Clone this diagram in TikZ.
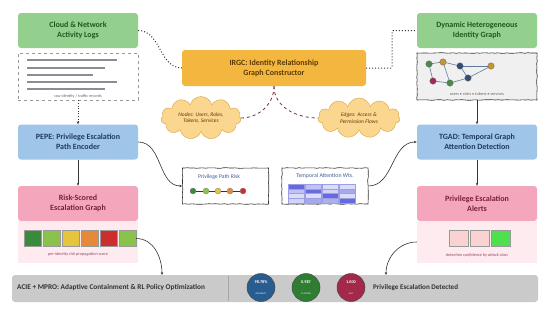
\documentclass[tikz,border=0pt]{standalone}
\usepackage{fontspec}
\setmainfont{Carlito}
\usetikzlibrary{shapes.symbols,decorations.pathmorphing,arrows.meta,calc}
\definecolor{gfill}{HTML}{93CF8D}
\definecolor{gtext}{HTML}{1F5A1F}
\definecolor{ofill}{HTML}{F3B63F}
\definecolor{otext}{HTML}{5A3A05}
\definecolor{bfill}{HTML}{9FC5E8}
\definecolor{btext}{HTML}{1F3A5F}
\definecolor{pfill}{HTML}{F4A6BC}
\definecolor{ptext}{HTML}{7A1F3A}
\definecolor{plight}{HTML}{FDEBEF}
\definecolor{cfill}{HTML}{FBD68E}
\definecolor{cdraw}{HTML}{D9A444}
\definecolor{ctext}{HTML}{5A3A10}
\definecolor{barfill}{HTML}{CACACA}
\definecolor{ink}{HTML}{333333}
\definecolor{dashred}{HTML}{7A2D3A}
\definecolor{attn}{HTML}{4B50D6}
\definecolor{mtitle}{HTML}{3F5F8F}
\definecolor{cblue}{HTML}{2A5D8F}
\definecolor{cgreen}{HTML}{2E7D32}
\definecolor{cred}{HTML}{A3284A}
\definecolor{rdkgreen}{HTML}{3A8A3C}
\definecolor{rltgreen}{HTML}{8BC34A}
\definecolor{ryellow}{HTML}{E4C53C}
\definecolor{rorange}{HTML}{E68A3A}
\definecolor{rred}{HTML}{CC2E2E}
\definecolor{nodegreen}{HTML}{4A8A4A}
\definecolor{nodegold}{HTML}{C8952E}
\definecolor{nodenavy}{HTML}{2E4F7A}
\definecolor{nodemag}{HTML}{A3285A}
\definecolor{edgecol}{HTML}{5F7A99}
\definecolor{rawbar}{HTML}{8C8C92}
\definecolor{alertpink}{HTML}{FBD2D2}
\definecolor{alertgreen}{HTML}{4EE04E}
\tikzset{
  box/.style={rounded corners=3pt, minimum width=120pt, minimum height=35pt, align=center,
    font=\fontsize{8}{10}\selectfont\bfseries, inner sep=0pt},
  sketch/.style={draw=ink, line width=0.6pt, decorate,
    decoration={random steps, segment length=3pt, amplitude=0.35pt}},
  capt/.style={font=\fontsize{4.2}{5}\selectfont, text=gray!80!black, inner sep=0pt},
  cld/.style={cloud, cloud puffs=11, aspect=2.1, draw=cdraw, fill=cfill, inner sep=0pt,
    font=\fontsize{5.5}{6.6}\selectfont\itshape, text=ctext, align=center},
  gdot/.style={circle, minimum size=6.5pt, inner sep=0pt, draw=black!60, line width=0.3pt},
  rdot/.style={circle, minimum size=6pt, inner sep=0pt, draw=black!50, line width=0.3pt},
  sq/.style={minimum width=17pt, minimum height=16pt, inner sep=0pt, draw=gray!80, line width=0.4pt},
  arr/.style={draw=ink, line width=0.6pt, -{Stealth[length=3pt,width=2.4pt]}},
  dotline/.style={draw=ink, line width=1pt, dotted},
  metric/.style={circle, minimum size=28pt, inner sep=0pt, draw=black!70, line width=0.5pt,
    align=center, text=white}
}
\begin{document}
\begin{tikzpicture}[x=1pt,y=-1pt]
\useasboundingbox (0,0) rectangle (550,309);
\fill[white] (0,0) rectangle (550,309);

% left column
\node[box, fill=gfill, text=gtext] (logs) at (78,30.5) {Cloud \& Network\\Activity Logs};
\node[draw=gray!80, dashed, line width=0.6pt, minimum width=120pt, minimum height=47pt, inner sep=0pt] (raw) at (78,76.5) {};
\foreach \y/\e in {60/117,68/105,75/93,82/117,89/105}
  \fill[rawbar] (27,\y-1.3) rectangle (\e,\y+1.3);
\node[capt] (rawc) at (78,96) {raw identity / traffic records};

\node[box, fill=bfill, text=btext] (pepe) at (78,142) {PEPE: Privilege Escalation\\Path Encoder};
\node[box, fill=pfill, text=ptext] (risk) at (78,203.5) {Risk-Scored\\Escalation Graph};
\node[fill=plight, minimum width=120pt, minimum height=42pt, inner sep=0pt] (rpanel) at (78,242) {};
\node[sq, fill=rdkgreen] (s1) at (32.5,238.5) {};
\node[sq, fill=rltgreen] (s2) at (51.5,238.5) {};
\node[sq, fill=ryellow] (s3) at (70.5,238.5) {};
\node[sq, fill=rorange] (s4) at (89.5,238.5) {};
\node[sq, fill=rred] (s5) at (108.5,238.5) {};
\node[sq, fill=rltgreen] (s6) at (127.5,238.5) {};
\node[capt, font=\fontsize{4.3}{5}\selectfont\itshape, text=ptext!80] (rcap) at (78,254) {per-identity risk propagation score};

% center top
\node[box, fill=ofill, text=otext, minimum width=184pt, minimum height=36pt] (irgc) at (274,68) {IRGC: Identity Relationship\\Graph Constructor};
\node[cld, minimum width=80pt, minimum height=40pt] (cl) at (201,118) {Nodes: Users, Roles,\\Tokens, Services};
\node[cld, minimum width=82pt, minimum height=40pt] (cr) at (359,118) {Edges: Access \&\\Permission Flows};

% right column
\node[box, fill=gfill, text=gtext] (dyn) at (477,30.5) {Dynamic Heterogeneous\\Identity Graph};
\node[sketch, fill=gray!12, minimum width=120pt, minimum height=47pt, inner sep=0pt] (gpanel) at (477,76.5) {};
\coordinate (p1) at (429,64);
\coordinate (p2) at (443,62);
\coordinate (p3) at (460,66);
\coordinate (p4) at (491,66);
\coordinate (p5) at (433,81);
\coordinate (p6) at (450,83);
\coordinate (p7) at (468,78);
\foreach \a/\b in {p1/p2,p1/p5,p5/p6,p2/p6,p2/p3,p3/p4,p3/p7,p7/p4,p7/p6}
  \draw[draw=edgecol, line width=0.6pt] (\a) -- (\b);
\node[gdot, fill=nodegreen] (g1) at (p1) {};
\node[gdot, fill=nodegold] (g2) at (p2) {};
\node[gdot, fill=nodenavy] (g3) at (p3) {};
\node[gdot, fill=nodegold] (g4) at (p4) {};
\node[gdot, fill=nodemag] (g5) at (p5) {};
\node[gdot, fill=nodegreen] (g6) at (p6) {};
\node[gdot, fill=nodenavy] (g7) at (p7) {};
\node[capt] (gcap) at (477,94) {users • roles • tokens • services};

\node[box, fill=bfill, text=btext] (tgad) at (477,142) {TGAD: Temporal Graph\\Attention Detection};
\node[box, fill=pfill, text=ptext] (alerts) at (477,203.5) {Privilege Escalation\\Alerts};
\node[fill=plight, minimum width=120pt, minimum height=42pt, inner sep=0pt] (apanel) at (477,242) {};
\node[sq, minimum width=19pt, fill=alertpink] (a1) at (459,238.5) {};
\node[sq, minimum width=19pt, fill=alertpink] (a2) at (480,238.5) {};
\node[sq, minimum width=19pt, fill=alertgreen] (a3) at (501,238.5) {};
\node[capt, font=\fontsize{4.3}{5}\selectfont\itshape, text=ptext!80] (acap) at (477,255) {detection confidence by attack class};

% middle boxes
\node[sketch, fill=white, minimum width=86pt, minimum height=36pt, inner sep=0pt] (prisk) at (225.5,186) {};
\node[font=\fontsize{5.7}{7}\selectfont, text=mtitle] (prt) at (219,177) {Privilege Path Risk};
\node[rdot, fill=rdkgreen] (d1) at (193,191) {};
\node[rdot, fill=rltgreen] (d2) at (206,191) {};
\node[rdot, fill=ryellow] (d3) at (218,191) {};
\node[rdot, fill=rorange] (d4) at (230,191) {};
\node[rdot, fill=rred] (d5) at (243,191) {};
\draw[ink, line width=0.6pt] (d1) -- (d2) (d2) -- (d3) (d3) -- (d4) (d4) -- (d5);

\node[sketch, fill=white, minimum width=86pt, minimum height=36pt, inner sep=0pt] (tatt) at (325,186) {};
\node[font=\fontsize{5.8}{7}\selectfont, text=mtitle] (tat) at (325,176) {Temporal Attention Wts.};
\foreach \c/\vals in {0/{85,35,20,25},1/{35,85,20,50},2/{20,25,85,45},3/{20,50,20,85}}{
  \foreach \v [count=\r from 0] in \vals {
    \filldraw[fill=attn!\v!white, draw=attn!55, line width=0.3pt]
      (288+\c*17.2,184+\r*4.8) rectangle ++(16,4.8);
  }
}

% bottom bar
\node[fill=barfill, rounded corners=3pt, minimum width=526pt, minimum height=27pt, inner sep=0pt] (bar) at (275,288.5) {};
\node[anchor=west, font=\fontsize{7.3}{9}\selectfont\bfseries, text=ink, inner sep=0pt] (acie) at (17,287.5) {ACIE + MPRO: Adaptive Containment \& RL Policy Optimization};
\coordinate (dv1) at (228,276);
\coordinate (dv2) at (228,301);
\draw[gray!70, line width=0.5pt] (dv1) -- (dv2);
\node[metric, fill=cblue] (m1) at (261,287.5) {{\fontsize{4.2}{5}\selectfont\bfseries 98.78\%}\\[-1pt]{\fontsize{2.4}{3}\selectfont ACCURACY}};
\node[metric, fill=cgreen] (m2) at (306,287.5) {{\fontsize{4.2}{5}\selectfont\bfseries 0.987}\\[-1pt]{\fontsize{2.4}{3}\selectfont F1-SCORE}};
\node[metric, fill=cred] (m3) at (351,287.5) {{\fontsize{4.2}{5}\selectfont\bfseries 1.000}\\[-1pt]{\fontsize{2.4}{3}\selectfont AUC}};
\node[anchor=west, font=\fontsize{7.1}{9}\selectfont\bfseries, text=ink, inner sep=0pt] (ped) at (373,287.5) {Privilege Escalation Detected};

% connectors
\draw[dotline] (logs.east) to[out=0,in=180] (irgc.west);
\draw[dotline, rounded corners=1pt] (irgc.east) -- ++(26,0) |- (dyn.west);
\draw[dashred, dashed, line width=0.8pt] (irgc.south) to[out=-90,in=0] (cl.east);
\draw[dashred, dashed, line width=0.8pt] (irgc.south) to[out=-90,in=180] (cr.west);
\draw[arr, dotted] (raw.south) -- (pepe.north);
\draw[arr] (pepe.south) -- (risk.north);
\draw[arr] (pepe.east) to[out=0,in=180] (prisk.west);
\draw[arr] (tatt.east) to[out=0,in=180] (tgad.west);
\draw[arr] (gpanel.south) -- (tgad.north);
\draw[arr] (tgad.south) -- (alerts.north);
\coordinate (b1) at (162,275);
\coordinate (b2) at (386,275);
\draw[arr] (s6.east) to[out=0,in=90] (b1);
\draw[arr] (apanel.west) to[out=180,in=90] (b2);
\end{tikzpicture}
\end{document}
